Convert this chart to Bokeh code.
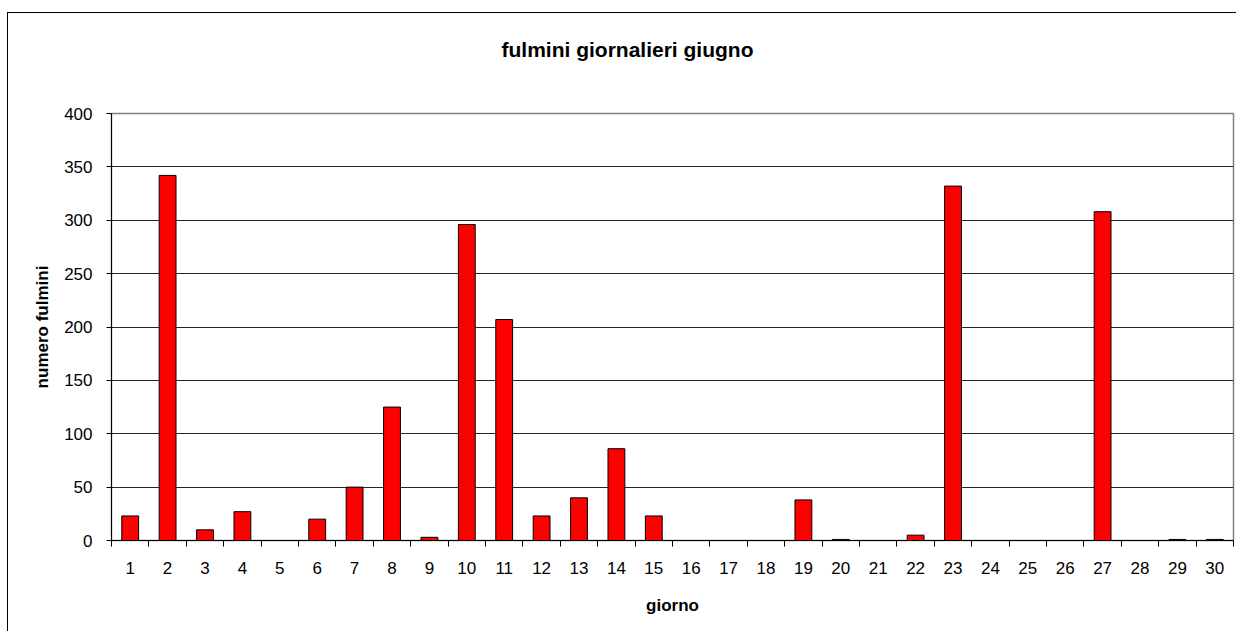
from bokeh.plotting import figure
from bokeh.models import Range1d, FixedTicker, ColumnDataSource, Title
from bokeh.embed import file_html
from bokeh.resources import INLINE

# ---- data ----
days = list(range(1, 31))
fulmini = [23, 342, 10, 27, 0, 20, 50, 125, 3, 296, 207, 23, 40, 86, 23,
           0, 0, 0, 38, 1, 0, 5, 332, 0, 0, 0, 308, 0, 1, 1]
y_ticks = [0, 50, 100, 150, 200, 250, 300, 350, 400]
title_text = "fulmini giornalieri giugno"
x_title = "giorno"
y_title = "numero fulmini"

# ---- layout constants ----
W, H = 1229, 619
BL, BR, BT, BB = 103, 4, 100, 92
FONT = "Liberation Sans"

x_start, x_end = days[0] - 0.5, days[-1] + 0.5
y_start, y_end = y_ticks[0], y_ticks[-1]

p = figure(width=W, height=H, output_backend="svg", toolbar_location=None,
           x_range=Range1d(x_start, x_end), y_range=Range1d(y_start, y_end),
           min_border_left=BL, min_border_right=BR,
           min_border_top=BT, min_border_bottom=BB)
p.styles = {"border-left": "1px solid black", "border-top": "1px solid black",
            "margin-left": "7px", "margin-top": "12px"}
p.background_fill_color = "white"
p.border_fill_color = "white"
p.outline_line_color = "#808080"
p.outline_line_width = 1.5

# title: empty spacer next to the frame, then the real title above it
p.title.text = ""
p.add_layout(Title(text=" ", text_font_size="1px", standoff=45), "above")
p.add_layout(Title(text=title_text, align="left", offset=390,
                   text_font=FONT, text_font_size="21px",
                   text_font_style="bold", text_color="black"), "above")

src = ColumnDataSource(dict(day=days, n=fulmini))
p.vbar(x="day", top="n", bottom=0, width=0.45, source=src,
       fill_color="#FF0000", line_color="black", line_width=1)

# x axis: labels at centres, tick marks between categories
xa = p.xaxis[0]
xa.ticker = FixedTicker(ticks=days,
                        minor_ticks=[d - 0.5 for d in days] + [days[-1] + 0.5])
xa.major_tick_out = 0
xa.major_tick_in = 0
xa.minor_tick_out = 6
xa.minor_tick_in = 0
xa.minor_tick_line_color = "black"
xa.axis_line_color = "black"
xa.major_label_standoff = 15
xa.major_label_text_font = FONT
xa.major_label_text_font_size = "17px"
xa.major_label_text_color = "black"
xa.axis_label = x_title
xa.axis_label_text_font = FONT
xa.axis_label_text_font_size = "17px"
xa.axis_label_text_font_style = "bold"
xa.axis_label_text_color = "black"
xa.axis_label_standoff = 19

ya = p.yaxis[0]
ya.ticker = FixedTicker(ticks=y_ticks)
ya.major_tick_out = 5
ya.major_tick_in = 0
ya.minor_tick_out = 0
ya.minor_tick_in = 0
ya.major_tick_line_color = "black"
ya.axis_line_color = "black"
ya.major_label_standoff = 14
ya.major_label_text_font = FONT
ya.major_label_text_font_size = "17px"
ya.major_label_text_color = "black"
ya.axis_label = y_title
ya.axis_label_text_font = FONT
ya.axis_label_text_font_size = "17px"
ya.axis_label_text_font_style = "bold"
ya.axis_label_text_color = "black"
ya.axis_label_standoff = 9

p.xgrid.visible = False
p.ygrid.ticker = FixedTicker(ticks=y_ticks[1:-1])
p.ygrid.grid_line_color = "black"
p.ygrid.grid_line_alpha = 0.85
p.ygrid.grid_line_width = 1

open("out.html", "w").write(file_html(p, INLINE))
